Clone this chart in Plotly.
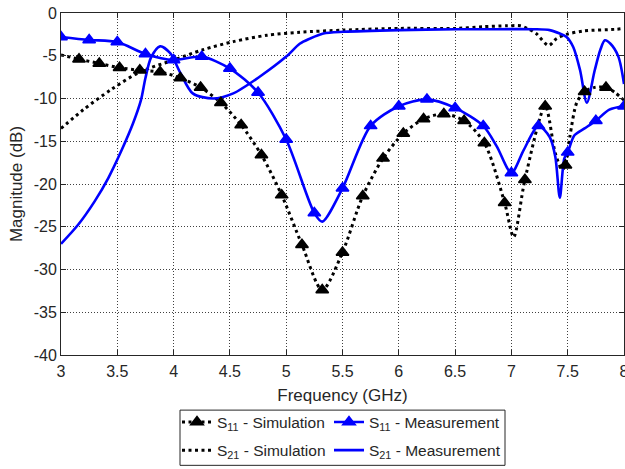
import numpy as np
import plotly.graph_objects as go

# ---------------- data ----------------
s11_sim_f = [3.00, 3.16, 3.34, 3.52, 3.70, 3.88, 4.06, 4.24, 4.42, 4.60, 4.78, 4.96, 5.14, 5.32,
             5.50, 5.68, 5.86, 6.04, 6.22, 6.40, 6.58, 6.76, 6.94, 7.02, 7.12, 7.30, 7.39, 7.45,
             7.48, 7.52, 7.58, 7.65, 7.74, 7.84, 7.92, 8.00]
s11_sim_db = [-4.9, -5.4, -5.9, -6.4, -6.7, -6.9, -7.6, -8.7, -10.5, -13.1, -16.6, -21.3, -27.1, -32.4,
              -28.0, -21.4, -17.0, -14.1, -12.4, -11.8, -12.6, -15.2, -22.2, -26.2, -19.5, -10.9, -16.4, -18.3,
              -17.8, -14.4, -10.5, -9.2, -8.7, -8.7, -9.3, -10.2]
s11_sim_marker_f = [3.16, 3.34, 3.52, 3.70, 3.88, 4.06, 4.24, 4.42, 4.60, 4.78, 4.96, 5.14, 5.32,
                    5.50, 5.68, 5.86, 6.04, 6.22, 6.40, 6.58, 6.76, 6.94, 7.12, 7.30, 7.48, 7.65, 7.84]

s11_meas_f = [3.00, 3.25, 3.50, 3.75, 4.00, 4.25, 4.50, 4.75, 5.00, 5.25, 5.32, 5.50, 5.75, 6.00,
              6.25, 6.50, 6.75, 6.87, 7.00, 7.11, 7.24, 7.34, 7.39, 7.43, 7.47, 7.50, 7.56, 7.65,
              7.75, 7.87, 8.00]
s11_meas_db = [-2.8, -3.15, -3.4, -4.8, -5.5, -5.1, -6.5, -9.3, -14.8, -23.4, -24.4, -20.5, -13.2, -10.9,
               -10.1, -11.1, -13.2, -15.6, -18.7, -16.0, -13.2, -14.5, -16.8, -21.6, -17.0, -16.3, -14.3, -13.5,
               -12.6, -11.3, -10.9]
s11_meas_marker_f = [3.00, 3.25, 3.50, 3.75, 4.00, 4.25, 4.50, 4.75, 5.00, 5.25, 5.50, 5.75, 6.00,
                     6.25, 6.50, 6.75, 7.00, 7.24, 7.50, 7.75, 8.00]

s21_sim_f = [3.00, 3.20, 3.44, 3.70, 4.00, 4.26, 4.53, 4.83, 5.12, 5.51, 6.01, 6.51, 6.75, 6.96,
             7.08, 7.14, 7.22, 7.33, 7.40, 7.49, 7.64, 7.93, 8.00]
s21_sim_db = [-13.5, -11.3, -9.0, -6.9, -5.5, -4.3, -3.35, -2.6, -2.25, -2.0, -1.8, -1.8, -1.6, -1.5,
              -1.5, -1.8, -2.4, -3.8, -3.0, -2.5, -2.1, -1.9, -1.8]

s21_meas_f = [3.00, 3.15, 3.30, 3.42, 3.54, 3.64, 3.71, 3.75, 3.80, 3.88, 3.97, 4.06, 4.17, 4.35,
              4.53, 4.77, 5.00, 5.12, 5.21, 5.33, 5.51, 6.01, 6.51, 6.75, 7.20, 7.34, 7.43, 7.49,
              7.55, 7.61, 7.67, 7.74, 7.79, 7.83, 7.88, 7.95, 8.00]
s21_meas_db = [-27.0, -24.8, -22.0, -19.3, -16.0, -12.9, -10.2, -7.6, -5.2, -3.9, -4.7, -7.0, -9.4, -10.0,
               -9.4, -7.4, -5.1, -3.6, -3.0, -2.4, -2.2, -2.0, -1.9, -1.9, -1.9, -2.0, -2.4, -2.8,
               -4.0, -6.7, -10.5, -6.7, -4.3, -3.2, -3.6, -5.1, -8.3]

x_tickvals = [3, 3.5, 4, 4.5, 5, 5.5, 6, 6.5, 7, 7.5, 8]
x_ticktext = ["3", "3.5", "4", "4.5", "5", "5.5", "6", "6.5", "7", "7.5", "8"]
y_tickvals = [0, -5, -10, -15, -20, -25, -30, -35, -40]
y_ticktext = ["0", "-5", "-10", "-15", "-20", "-25", "-30", "-35", "-40"]

names = ["S<sub>11</sub> - Simulation", "S<sub>21</sub> - Simulation",
         "S<sub>11</sub> - Measurement", "S<sub>21</sub> - Measurement"]

# ---------------- styles ----------------
BLUE = "#0000FF"
BLACK = "#000000"
TXT = "#262626"
FONT = "Liberation Sans, Arial, Helvetica, sans-serif"
DOT = "3px,3.5px"
TRI = dict(symbol="triangle-up", size=11)
MLW = 1.5


def pick(f, db, mf):
    f = np.asarray(f); db = np.asarray(db)
    mask = np.isin(np.round(f, 2), np.round(mf, 2))
    return f[mask], db[mask]


fig = go.Figure()

# curves
fig.add_trace(go.Scatter(x=s21_sim_f, y=s21_sim_db, mode="lines", showlegend=False,
                         line=dict(color=BLACK, width=3, dash=DOT, shape="spline", smoothing=0.8)))
fig.add_trace(go.Scatter(x=s11_sim_f, y=s11_sim_db, mode="lines", showlegend=False,
                         line=dict(color=BLACK, width=3, dash=DOT, shape="spline", smoothing=0.8)))
fig.add_trace(go.Scatter(x=s21_meas_f, y=s21_meas_db, mode="lines", showlegend=False,
                         line=dict(color=BLUE, width=2.6, shape="spline", smoothing=0.8)))
fig.add_trace(go.Scatter(x=s11_meas_f, y=s11_meas_db, mode="lines", showlegend=False,
                         line=dict(color=BLUE, width=2.6, shape="spline", smoothing=0.8)))

# markers
mx, my = pick(s11_sim_f, s11_sim_db, s11_sim_marker_f)
fig.add_trace(go.Scatter(x=mx, y=my, mode="markers", showlegend=False, cliponaxis=True,
                         marker=dict(**TRI, color=BLACK, line=dict(color=BLACK, width=MLW))))
mx, my = pick(s11_meas_f, s11_meas_db, s11_meas_marker_f)
fig.add_trace(go.Scatter(x=mx, y=my, mode="markers", showlegend=False, cliponaxis=True,
                         marker=dict(**TRI, color=BLUE, line=dict(color=BLUE, width=MLW))))

# legend entries
fig.add_trace(go.Scatter(x=[None], y=[None], mode="lines+markers", name=names[0], legend="legend",
                         legendgroup="a",
                         line=dict(color=BLACK, width=3, dash=DOT),
                         marker=dict(**TRI, color=BLACK, line=dict(color=BLACK, width=MLW))))
fig.add_trace(go.Scatter(x=[None], y=[None], mode="lines", name=names[1], legend="legend",
                         legendgroup="b",
                         line=dict(color=BLACK, width=3, dash=DOT)))
fig.add_trace(go.Scatter(x=[None], y=[None], mode="lines+markers", name=names[2], legend="legend2",
                         legendgroup="c",
                         line=dict(color=BLUE, width=2.6),
                         marker=dict(**TRI, color=BLUE, line=dict(color=BLUE, width=MLW))))
fig.add_trace(go.Scatter(x=[None], y=[None], mode="lines", name=names[3], legend="legend2",
                         legendgroup="d",
                         line=dict(color=BLUE, width=2.6)))

L, R, T, B = 61, 1, 13, 113.5
W, H = 625, 469
pw, ph = W - L - R, H - T - B


def px_x(p):
    return (p - L) / pw


def px_y(p):
    return (H - B - p) / ph


axis_common = dict(showline=True, linecolor=TXT, linewidth=1, mirror="ticks", ticks="inside",
                   ticklen=5, tickcolor=TXT, showgrid=True, gridcolor="rgba(0,0,0,0.75)",
                   gridwidth=1, griddash="1px,2px", zeroline=False, ticklabeloverflow="allow",
                   tickfont=dict(family=FONT, size=16, color=TXT))

leg_common = dict(font=dict(family=FONT, size=15.5, color=TXT), bgcolor="rgba(0,0,0,0)",
                  borderwidth=0, orientation="v", xanchor="left", yanchor="top",
                  tracegroupgap=5, traceorder="grouped")

fig.update_layout(
    width=W, height=H,
    margin=dict(l=L, r=R, t=T, b=B, autoexpand=False),
    paper_bgcolor="white", plot_bgcolor="white",
    font=dict(family=FONT, color=TXT),
    xaxis=dict(range=[3, 8], tickvals=x_tickvals, ticktext=x_ticktext, ticklabelstandoff=2,
               title=dict(text="Frequency (GHz)", font=dict(family=FONT, size=17, color=TXT), standoff=9),
               **axis_common),
    yaxis=dict(range=[-40, 0], tickvals=y_tickvals, ticktext=y_ticktext,
               title=dict(text="Magnitude (dB)", font=dict(family=FONT, size=17, color=TXT), standoff=6),
               **axis_common),
    legend=dict(x=px_x(177), y=px_y(406), **leg_common),
    legend2=dict(x=px_x(329), y=px_y(406), **leg_common),
    shapes=[dict(type="rect", xref="paper", yref="paper",
                 x0=px_x(180), x1=px_x(505), y0=px_y(466), y1=px_y(410.7),
                 line=dict(color=TXT, width=1), fillcolor="rgba(0,0,0,0)")],
    showlegend=True,
)

fig.write_html("out.html", config={"displayModeBar": False},
               post_script="document.body.style.margin='0';document.body.style.padding='0';")
